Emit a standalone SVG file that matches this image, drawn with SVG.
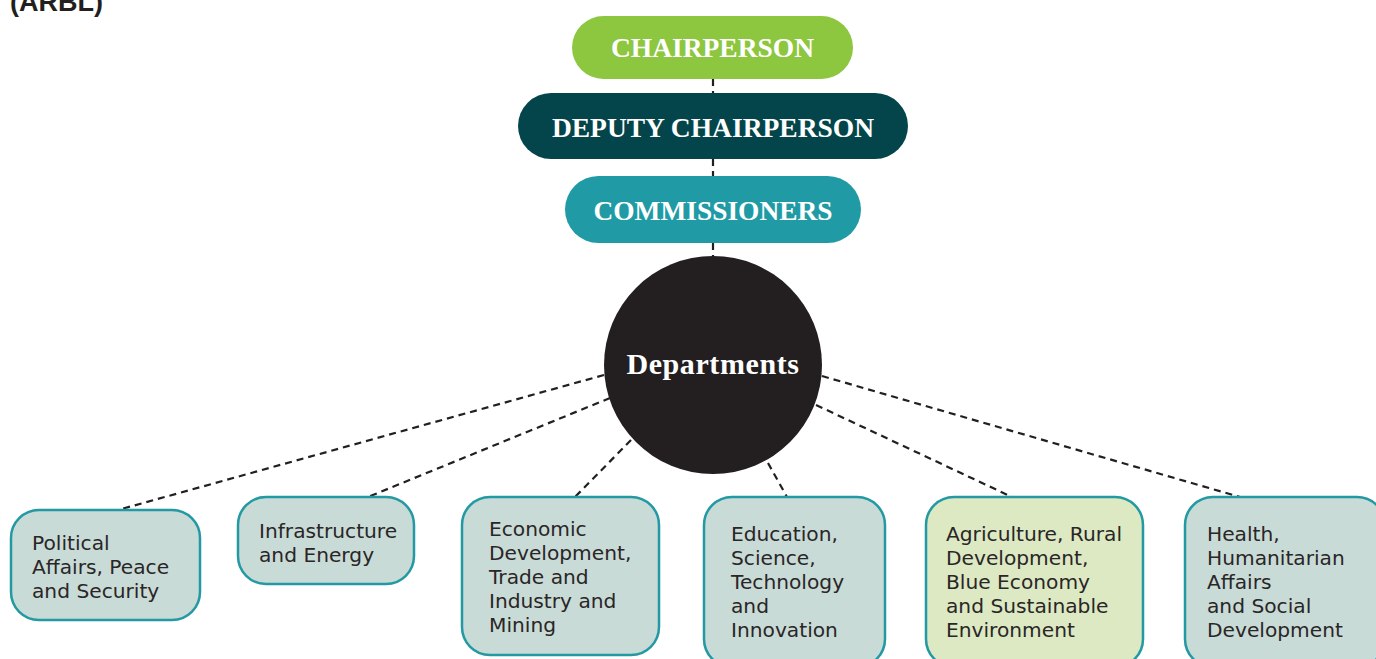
<svg xmlns="http://www.w3.org/2000/svg" width="1376" height="659" viewBox="0 0 1376 659">
<style>
.pill{font-family:"Liberation Serif","DejaVu Serif",serif;font-weight:bold;fill:#ffffff;text-anchor:middle}
.box{fill:#c9dbd6;stroke:#2399a3;stroke-width:2.5}
.boxg{fill:#dce9c3;stroke:#2399a3;stroke-width:2.5}
.lbl{font-family:"DejaVu Sans","Liberation Sans",sans-serif;font-size:20.2px;fill:#2a2627}
.con{stroke:#231f20;stroke-width:2.2;stroke-dasharray:7 5;fill:none}
</style>
<rect width="1376" height="659" fill="#ffffff"/>
<text x="10" y="11" font-family="Liberation Sans,sans-serif" font-weight="bold" font-size="27" fill="#231f20">(ARBL)</text>
<g id="connectors">
<line class="con" x1="713" y1="79" x2="713" y2="93"/>
<line class="con" x1="713" y1="159" x2="713" y2="176"/>
<line class="con" x1="713" y1="243" x2="713" y2="258"/>
<line class="con" x1="604" y1="375" x2="118" y2="510"/>
<line class="con" x1="610" y1="398" x2="368" y2="497"/>
<line class="con" x1="631" y1="440" x2="575" y2="497"/>
<line class="con" x1="768" y1="463" x2="787" y2="497"/>
<line class="con" x1="816" y1="405" x2="1012" y2="497"/>
<line class="con" x1="822" y1="376" x2="1240" y2="497"/>
</g>
<g id="chairperson">
<rect x="572" y="16" width="281" height="63" rx="31.5" fill="#8dc63f"/>
<text class="pill" x="712.5" y="57" font-size="27.5">CHAIRPERSON</text>
</g>
<g id="deputy">
<rect x="518" y="93" width="390" height="66" rx="33" fill="#04454b"/>
<text class="pill" x="713" y="137" font-size="27.5">DEPUTY CHAIRPERSON</text>
</g>
<g id="commissioners">
<rect x="565" y="176" width="296" height="67" rx="33.5" fill="#209ba6"/>
<text class="pill" x="713" y="220" font-size="27.4">COMMISSIONERS</text>
</g>
<g id="departments">
<circle cx="713" cy="365" r="109" fill="#231f20"/>
<text class="pill" x="713" y="374" font-size="30" letter-spacing="0.6">Departments</text>
</g>
<g id="political">
<rect class="box" x="11" y="510" width="189" height="110" rx="28"/>
<text class="lbl" x="32" y="550">Political</text>
<text class="lbl" x="32" y="574">Affairs, Peace</text>
<text class="lbl" x="32" y="598">and Security</text>
</g>
<g id="infrastructure">
<rect class="box" x="238" y="497" width="176" height="87" rx="28"/>
<text class="lbl" x="259" y="538">Infrastructure</text>
<text class="lbl" x="259" y="562">and Energy</text>
</g>
<g id="economic">
<rect class="box" x="462" y="497" width="197" height="158" rx="28"/>
<text class="lbl" x="489" y="536">Economic</text>
<text class="lbl" x="489" y="560">Development,</text>
<text class="lbl" x="489" y="584">Trade and</text>
<text class="lbl" x="489" y="608">Industry and</text>
<text class="lbl" x="489" y="632">Mining</text>
</g>
<g id="education">
<rect class="box" x="704" y="497" width="181" height="170" rx="28"/>
<text class="lbl" x="731" y="541">Education,</text>
<text class="lbl" x="731" y="565">Science,</text>
<text class="lbl" x="731" y="589">Technology</text>
<text class="lbl" x="731" y="613">and</text>
<text class="lbl" x="731" y="637">Innovation</text>
</g>
<g id="agriculture">
<rect class="boxg" x="926" y="497" width="217" height="170" rx="28"/>
<text class="lbl" x="946" y="541">Agriculture, Rural</text>
<text class="lbl" x="946" y="565">Development,</text>
<text class="lbl" x="946" y="589">Blue Economy</text>
<text class="lbl" x="946" y="613">and Sustainable</text>
<text class="lbl" x="946" y="637">Environment</text>
</g>
<g id="health">
<rect class="box" x="1185" y="497" width="200" height="170" rx="28"/>
<text class="lbl" x="1207" y="541">Health,</text>
<text class="lbl" x="1207" y="565">Humanitarian</text>
<text class="lbl" x="1207" y="589">Affairs</text>
<text class="lbl" x="1207" y="613">and Social</text>
<text class="lbl" x="1207" y="637">Development</text>
</g>
</svg>
